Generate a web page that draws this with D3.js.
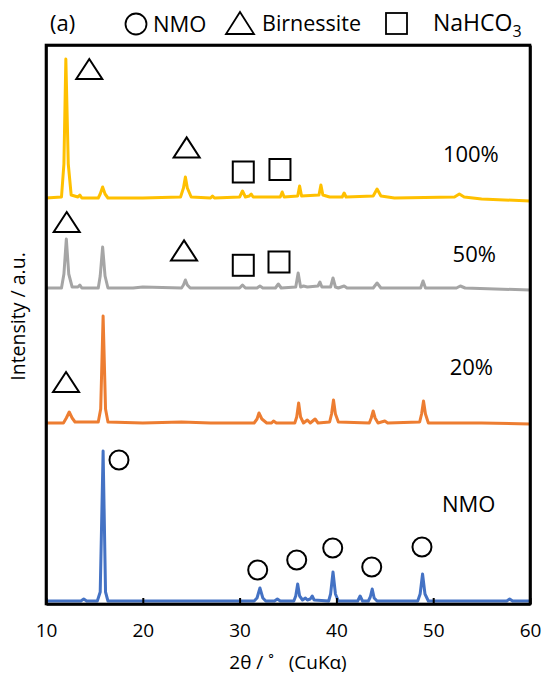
<!DOCTYPE html>
<html><head><meta charset="utf-8">
<script src="https://cdn.jsdelivr.net/npm/d3@7"></script>
<style>
html,body{margin:0;padding:0;background:#fff;overflow:hidden;}
svg{display:block;font-family:"Open Sans","Noto Sans",sans-serif;}
</style></head>
<body>
<svg id="chart" width="544" height="681" viewBox="0 0 544 681"></svg>
<script>
// ---- data: [2θ, intensity (a.u., offset stacked)] ----
const xTicks = [10, 20, 30, 40, 50, 60];
const seriesNames = ["100%", "50%", "20%", "NMO"];
const seriesColors = ["#FFC000", "#A5A5A5", "#ED7D31", "#4472C4"];

const s100 = [[10,406],[11.6,407],[11.85,440],[12.05,545],[12.3,440],[12.6,409],[13.3,407],[13.5,409],[13.7,406],[15.4,406],[15.6,410],[15.85,417],[16.1,410],[16.4,406],[20,406],[23.9,407],[24.2,416],[24.4,427],[24.6,416],[25.0,407],[27.0,406],[27.2,408],[27.4,406],[30.0,407],[30.3,413],[30.6,407],[31.0,408],[31.2,410],[31.4,407],[34.2,407],[34.4,412],[34.6,407],[36.0,408],[36.2,418],[36.4,408],[38.2,409],[38.4,419],[38.6,409],[39.3,407],[40.6,407],[40.8,411],[41.0,407],[43.8,408],[44.2,415],[44.6,408],[46,406],[52.2,407],[52.7,410],[53.2,407],[55,405],[60,403]];

const s50 = [[10,316],[11.6,316],[11.85,330],[12.1,365],[12.35,330],[12.7,317],[13.3,317],[13.5,319],[13.7,316],[15.4,316],[15.6,328],[15.85,357],[16.1,328],[16.4,316],[19,316],[20,317],[24,316],[24.2,319],[24.4,324],[24.6,319],[24.9,316],[30.0,316],[30.3,319],[30.6,316],[31.8,316],[32.1,318],[32.4,316],[33.7,316],[34.0,320],[34.3,316],[35.8,317],[36.05,331],[36.3,317],[36.6,318],[37.0,317],[38.1,318],[38.3,322],[38.5,317],[39.4,317],[39.65,326],[39.9,317],[40.2,316],[40.8,318],[41.1,316],[43.8,316],[44.2,321],[44.6,316],[48.7,316],[48.95,323],[49.2,316],[52.4,316],[52.8,318],[53.3,316],[60,314]];

const s20 = [[10,181],[11.8,181],[12.1,186],[12.4,192],[12.7,186],[13.0,182],[15.4,182],[15.65,195],[15.9,288],[16.15,195],[16.4,182],[20,181],[24,182],[27,181],[31.5,181],[31.8,185],[32.0,191],[32.3,185],[32.8,181],[33.3,181],[33.5,183],[33.8,181],[35.7,181],[35.9,187],[36.1,201],[36.3,187],[36.6,181],[37.0,184],[37.3,181],[37.8,185],[38.1,181],[39.3,182],[39.5,190],[39.7,204],[39.9,190],[40.2,182],[43.4,181],[43.6,186],[43.8,193],[44.0,186],[44.3,181],[45.0,183],[45.3,181],[48.6,182],[48.8,190],[49.0,203],[49.2,190],[49.5,181],[55,181],[60,180]];

const sNMO = [[10,3],[12,3],[13.6,3],[13.9,5],[14.2,3],[15.3,3],[15.6,12],[15.9,153],[16.15,12],[16.4,3],[20,3],[25,3],[31.5,3],[31.8,6],[32.1,16],[32.4,6],[32.7,3],[33.6,3],[33.9,5],[34.2,3],[35.6,3],[35.8,8],[36.0,20],[36.2,8],[36.5,4],[36.8,6],[37.0,4],[37.3,5],[37.5,8],[37.7,4],[39.2,3],[39.4,10],[39.65,32],[39.9,10],[40.2,3],[42.2,3],[42.45,8],[42.7,3],[43.3,3],[43.5,7],[43.7,15],[43.9,6],[44.2,3],[48.4,3],[48.65,10],[48.9,30],[49.15,10],[49.5,3],[57.6,3],[57.9,5],[58.2,3],[60,3]];

// series label anchor: [2θ, intensity]
const labelPos = [[51.0,442],[52.0,342],[51.7,229],[50.9,92]];

// phase markers: [2θ, intensity]
const circleMarks = [[17.54,144],[31.87,34],[35.9,44],[39.62,56],[43.65,37],[48.84,57]];
const triangleMarks = [[14.47,535],[24.53,456.6],[12.14,382],[24.26,353.6],[12.07,222]];
const squareMarks = [[30.38,432],[34.17,434.5],[30.38,338.7],[34.07,342]];

// ---- drawing ----
const svg = d3.select("#chart");
const margin = {left:46, right:14, top:45, bottom:77};
const W = 544, H = 681;
const x = d3.scaleLinear().domain([10,60]).range([margin.left, W-margin.right]);
const y = d3.scaleLinear().domain([0,559]).range([H-margin.bottom, margin.top]);

const allSeries = [s100, s50, s20, sNMO];
const line = d3.line().x(d=>x(d[0])).y(d=>y(d[1]));

const plot = svg.append("g");
allSeries.forEach((s,i)=>{
  plot.append("path").datum(s).attr("d", line)
    .attr("fill","none").attr("stroke",seriesColors[i])
    .attr("stroke-width",3).attr("stroke-linejoin","round");
});

// frame via left/right y axes and top/bottom x axes (no ticks on the others)
const x0 = x(10), x1 = x(60), yb = y(0), yt = y(559);
svg.append("rect").attr("x",x0).attr("y",yt).attr("width",x1-x0).attr("height",yb-yt)
  .style("fill","none").style("stroke","#000").style("stroke-width","2.6px");

// x axis with inward ticks
const xAxis = d3.axisBottom(x).tickValues(xTicks).tickSizeInner(-6).tickSizeOuter(0).tickPadding(20);
const gx = svg.append("g").attr("transform",`translate(0,${yb})`).call(xAxis);
gx.select(".domain").attr("stroke","#000").attr("stroke-width",2.6);
gx.selectAll(".tick line").attr("stroke","#000").attr("stroke-width",2);
gx.selectAll(".tick text").attr("font-size",19).attr("fill","#000").attr("font-family","'Open Sans',sans-serif");

const gtop = svg.append("g").attr("transform",`translate(0,${yt})`).call(d3.axisTop(x).tickValues([]).tickSizeOuter(0));
gtop.select(".domain").attr("stroke","#000").attr("stroke-width",2.6);
const gright = svg.append("g").attr("transform",`translate(${x1},0)`).call(d3.axisRight(y).tickValues([]).tickSizeOuter(0));
gright.select(".domain").attr("stroke","#000").attr("stroke-width",2.6);
const gleft = svg.append("g").attr("transform",`translate(${x0},0)`).call(d3.axisLeft(y).tickValues([]).tickSizeOuter(0));
gleft.select(".domain").attr("stroke","#000").attr("stroke-width",2.6);

// axis titles
svg.append("text").attr("x",(x0+x1)/2).attr("y",669).attr("text-anchor","middle")
  .attr("font-size",19).text("2θ / ˚\u00A0\u00A0\u00A0(CuKα)");
svg.append("text").attr("transform",`translate(25,${(yb+yt)/2-8}) rotate(-90)`)
  .attr("text-anchor","middle").attr("font-size",19.5).text("Intensity / a.u.");

// series labels
labelPos.forEach((p,i)=>{
  svg.append("text").attr("x",x(p[0])).attr("y",y(p[1])).attr("font-size",22).text(seriesNames[i]);
});

// markers
const mk = svg.append("g").attr("fill","none").attr("stroke","#000").attr("stroke-width",2);
circleMarks.forEach(p=>{
  mk.append("circle").attr("cx",x(p[0])).attr("cy",y(p[1])).attr("r",9.5);
});
triangleMarks.forEach(p=>{
  const cx=x(p[0]), cy=y(p[1]);
  mk.append("path").attr("d",`M${cx},${cy-10}L${cx+13},${cy+10}L${cx-13},${cy+10}Z`);
});
squareMarks.forEach(p=>{
  const cx=x(p[0]), cy=y(p[1]);
  mk.append("rect").attr("x",cx-10.5).attr("y",cy-10.5).attr("width",21).attr("height",21);
});

// legend header
const lg = svg.append("g");
lg.append("text").attr("x",50).attr("y",31).attr("font-size",22).text("(a)");
lg.append("circle").attr("cx",136).attr("cy",24).attr("r",10.5).attr("fill","none").attr("stroke","#000").attr("stroke-width",1.8);
lg.append("text").attr("x",153).attr("y",32).attr("font-size",22).text("NMO");
lg.append("path").attr("d","M240,12L254,34L226,34Z").attr("fill","none").attr("stroke","#000").attr("stroke-width",1.8);
lg.append("text").attr("x",262).attr("y",31).attr("font-size",21.5).text("Birnessite");
lg.append("rect").attr("x",386).attr("y",13).attr("width",21).attr("height",21).attr("fill","none").attr("stroke","#000").attr("stroke-width",1.8);
const t = lg.append("text").attr("x",433).attr("y",31).attr("font-size",23);
t.append("tspan").text("NaHCO");
t.append("tspan").attr("font-size",16).attr("dy",6).text("3");
</script>
</body></html>
